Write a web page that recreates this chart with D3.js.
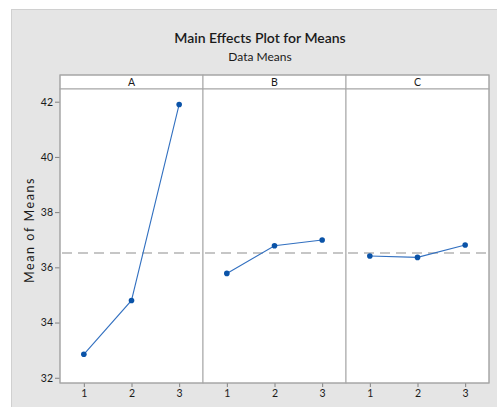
<!DOCTYPE html>
<html>
<head>
<meta charset="utf-8">
<script src="https://cdn.jsdelivr.net/npm/d3@7"></script>
<style>
  html, body { margin: 0; padding: 0; background: #ffffff; }
  svg { display: block; }
  text { font-family: "Lato", "Open Sans", sans-serif; fill: #1a1a1a; }
</style>
</head>
<body>
<svg id="chart" width="497" height="407"></svg>
<script>
// Factor panels and their level means
const factors = ["A", "B", "C"];
const levels = [1, 2, 3];
const meansA = [32.85, 34.8, 41.9];
const meansB = [35.78, 36.78, 36.99];
const meansC = [36.41, 36.36, 36.81];
const yTicks = [32, 34, 36, 38, 40, 42];
const grandMean = 36.52;

const seriesByFactor = [meansA, meansB, meansC];

const W = 497, H = 407;
const plotLeft = 60, plotRight = 489;
const stripTop = 75, plotTop = 89, plotBottom = 383;
const panelW = (plotRight - plotLeft) / factors.length;

const svg = d3.select("#chart");

// Gray backdrop
svg.append("rect")
  .attr("x", 11).attr("y", 9)
  .attr("width", W - 11).attr("height", H - 9)
  .attr("fill", "#e5e5e5");
svg.append("line")
  .attr("x1", 11).attr("x2", W).attr("y1", 9.5).attr("y2", 9.5)
  .attr("stroke", "#d0d0d0");
svg.append("line")
  .attr("x1", 11.5).attr("x2", 11.5).attr("y1", 9).attr("y2", H)
  .attr("stroke", "#d0d0d0");

// Titles
svg.append("text")
  .attr("x", 260).attr("y", 43)
  .attr("text-anchor", "middle")
  .attr("font-size", 14)
  .attr("font-weight", 600)
  .text("Main Effects Plot for Means");
svg.append("text")
  .attr("x", 260).attr("y", 61)
  .attr("text-anchor", "middle")
  .attr("font-size", 12)
  .text("Data Means");

const y = d3.scaleLinear()
  .domain([31.81, 42.46])
  .range([plotBottom, plotTop]);

// Y axis
const yAxis = svg.append("g")
  .attr("transform", `translate(${plotLeft},0)`)
  .call(d3.axisLeft(y).tickValues(yTicks).tickSize(5).tickPadding(2).tickFormat(d3.format("d")));
yAxis.select(".domain").remove();
yAxis.selectAll(".tick line").attr("stroke", "#808080");
yAxis.selectAll(".tick text")
  .attr("font-size", 10.5)
  .attr("font-family", "Lato, sans-serif")
  .attr("fill", "#1a1a1a");

svg.append("text")
  .attr("transform", "translate(34,230) rotate(-90)")
  .attr("text-anchor", "middle")
  .attr("font-size", 12.5)
  .attr("letter-spacing", 1.6)
  .text("Mean of Means");

factors.forEach((f, i) => {
  const x0 = plotLeft + i * panelW;
  const x = d3.scaleLinear().domain([0.5, 3.5]).range([x0, x0 + panelW]);
  const g = svg.append("g");

  // Strip header
  g.append("rect")
    .attr("x", x0).attr("y", stripTop)
    .attr("width", panelW).attr("height", plotTop - stripTop)
    .attr("fill", "#ffffff").attr("stroke", "#a6a6a6");
  g.append("text")
    .attr("x", x0 + panelW / 2).attr("y", plotTop - 3.5)
    .attr("text-anchor", "middle")
    .attr("font-size", 10.5)
    .text(f);

  // Panel body
  g.append("rect")
    .attr("x", x0).attr("y", plotTop)
    .attr("width", panelW).attr("height", plotBottom - plotTop)
    .attr("fill", "#ffffff").attr("stroke", "#a6a6a6");

  // Reference line at the overall mean
  g.append("line")
    .attr("x1", x0 + 2).attr("x2", x0 + panelW)
    .attr("y1", y(grandMean)).attr("y2", y(grandMean))
    .attr("stroke", "#c6c6c6")
    .attr("stroke-width", 2)
    .attr("stroke-dasharray", "10,6");

  // X axis
  const xAxis = g.append("g")
    .attr("transform", `translate(0,${plotBottom})`)
    .call(d3.axisBottom(x).tickValues(levels).tickSize(4).tickPadding(3).tickFormat(d3.format("d")));
  xAxis.select(".domain").remove();
  xAxis.selectAll(".tick line").attr("stroke", "#808080");
  xAxis.selectAll(".tick text")
    .attr("font-size", 10.5)
    .attr("font-family", "Lato, sans-serif")
    .attr("fill", "#1a1a1a");

  const pts = levels.map((l, k) => ({ l, v: seriesByFactor[i][k] }));
  g.append("path")
    .datum(pts)
    .attr("fill", "none")
    .attr("stroke", "#3270c0")
    .attr("stroke-width", 1.1)
    .attr("d", d3.line().x(d => x(d.l)).y(d => y(d.v)));
  g.selectAll("circle")
    .data(pts)
    .join("circle")
    .attr("cx", d => x(d.l))
    .attr("cy", d => y(d.v))
    .attr("r", 2.8)
    .attr("fill", "#0a53a8");
});

// Outer frame of the panel block
svg.append("rect")
  .attr("x", plotLeft).attr("y", stripTop)
  .attr("width", plotRight - plotLeft).attr("height", plotBottom - stripTop)
  .attr("fill", "none").attr("stroke", "#a6a6a6");
</script>
</body>
</html>
